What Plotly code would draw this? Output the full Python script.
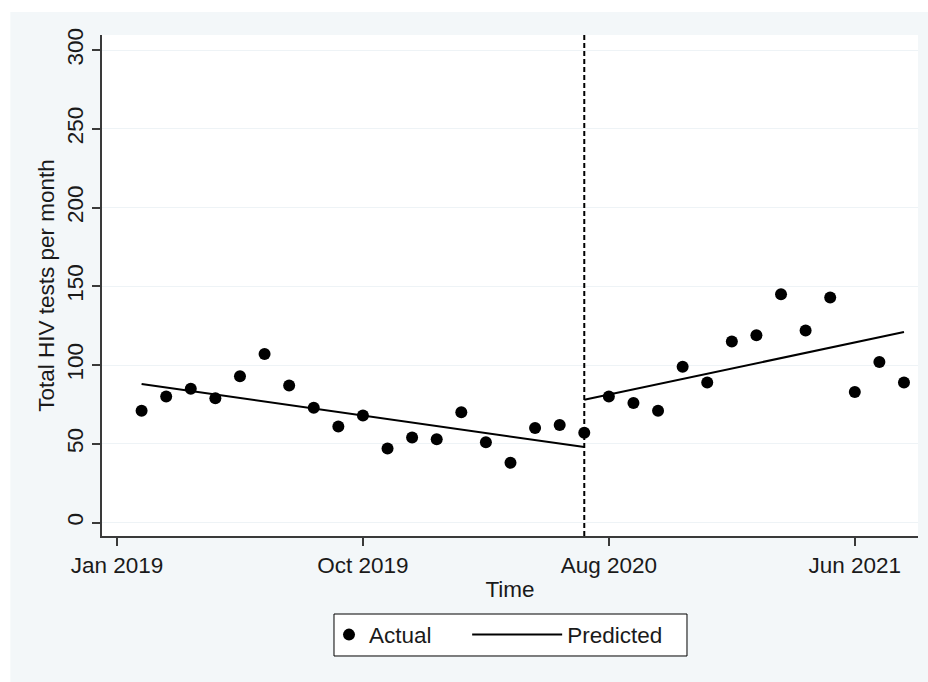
import plotly.graph_objects as go

# Month index (0 = Jan 2019) and observed monthly totals
months = list(range(1, 33))
actual = [71, 80, 85, 79, 93, 107, 87, 73, 61, 68, 47, 54, 53, 70, 51, 38,
          60, 62, 57, 80, 76, 71, 99, 89, 115, 119, 145, 122, 143, 83, 102, 89]

# Fitted segmented trend: before and after the interruption
pred_pre_x = [1, 19]
pred_pre_y = [88, 48]
pred_post_x = [19, 32]
pred_post_y = [78, 121]

interruption = 19

tick_vals = [0, 10, 20, 30]
tick_text = ["Jan 2019", "Oct 2019", "Aug 2020", "Jun 2021"]
y_ticks = [0, 50, 100, 150, 200, 250, 300]

FONT = "Liberation Sans, Arial, Helvetica, sans-serif"
TXT = "#1a1a1a"
AX = "#3a3a3a"
BG = "#f3f7f9"
FS = 22.5

fig = go.Figure()
fig.add_trace(go.Scatter(
    x=months, y=actual, mode="markers", name="Actual",
    marker=dict(color="black", size=12), legend="legend",
))
fig.add_trace(go.Scatter(
    x=pred_pre_x, y=pred_pre_y, mode="lines", name="Predicted",
    line=dict(color="black", width=2), legendgroup="pred", legend="legend2",
))
fig.add_trace(go.Scatter(
    x=pred_post_x, y=pred_post_y, mode="lines", name="Predicted",
    line=dict(color="black", width=2), legendgroup="pred", showlegend=False,
    legend="legend2",
))

# interruption marker
fig.add_shape(type="line", xref="x", yref="paper", x0=interruption, x1=interruption,
              y0=0, y1=1, line=dict(color="black", width=2, dash="5px,3px"))

# white outer border on the left and top
fig.add_shape(type="rect", xref="paper", yref="paper", x0=-0.2, x1=-0.1123,
              y0=-0.4, y1=1.2, fillcolor="white", line=dict(width=0), layer="below")
fig.add_shape(type="rect", xref="paper", yref="paper", x0=-0.2, x1=1.1,
              y0=1.0459, y1=1.2, fillcolor="white", line=dict(width=0), layer="below")

# frame shared by the two legend entries
fig.add_shape(type="rect", xref="paper", yref="paper", x0=0.2843, x1=0.7169,
              y0=-0.2395, y1=-0.1557, fillcolor="white",
              line=dict(color="black", width=1), layer="below")

legend_common = dict(orientation="h", yanchor="middle", y=-0.1976, xanchor="left",
                     bgcolor="rgba(0,0,0,0)", borderwidth=0,
                     font=dict(size=FS, color=TXT))

fig.update_layout(
    width=928, height=682,
    margin=dict(l=102, r=10, t=35, b=146),
    paper_bgcolor=BG, plot_bgcolor="white",
    font=dict(family=FONT, size=FS, color=TXT),
    showlegend=True,
    legend=dict(legend_common, x=0.2782, itemwidth=30),
    legend2=dict(legend_common, x=0.4475, itemwidth=90),
    xaxis=dict(
        range=[-0.61, 32.57], tickvals=tick_vals, ticktext=tick_text,
        showgrid=False, zeroline=False,
        showline=True, linecolor=AX, linewidth=1.5,
        ticks="outside", ticklen=8, tickcolor=AX, tickwidth=1.5,
        title=dict(text="Time", standoff=4, font=dict(size=FS)),
    ),
    yaxis=dict(
        range=[-8.5, 309.6], tickvals=y_ticks, tickangle=-90,
        showgrid=True, gridcolor="#eef3f6", gridwidth=1, zeroline=False,
        showline=True, linecolor=AX, linewidth=1.5,
        ticks="outside", ticklen=8, tickcolor=AX, tickwidth=1.5,
        title=dict(text="Total HIV tests per month", standoff=2, font=dict(size=FS)),
    ),
)

fig.write_html("out.html")
